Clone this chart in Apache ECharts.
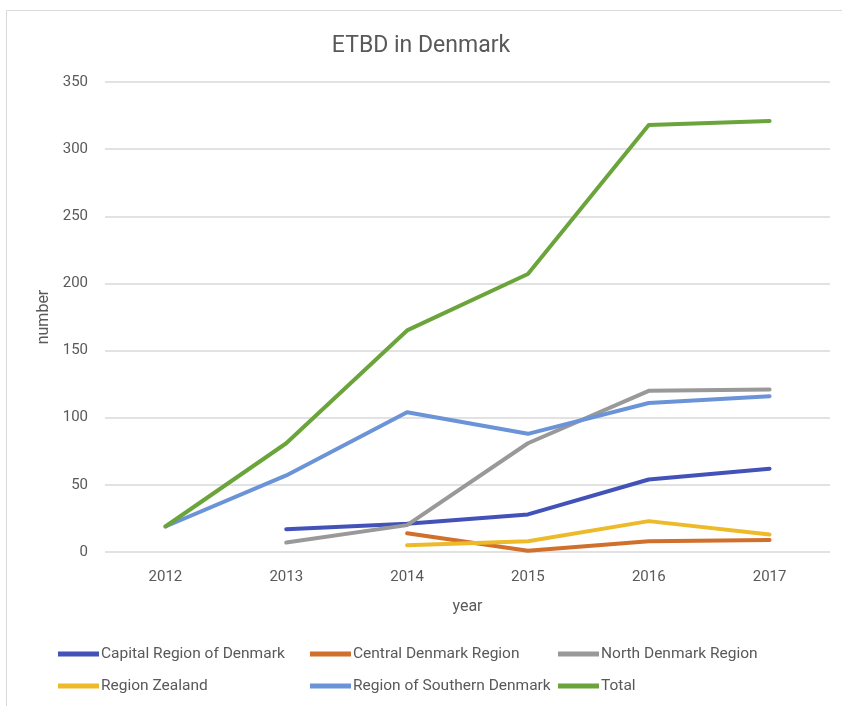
<!DOCTYPE html>
<html><head><meta charset="utf-8">
<script src="https://cdn.jsdelivr.net/npm/echarts@6/dist/echarts.min.js"></script>
<style>html,body{margin:0;padding:0;background:#fff}#c{width:842px;height:706px}</style>
</head><body><div id="c"></div>
<script>
const years = ['2012','2013','2014','2015','2016','2017'];
const capital = [null, 17, 21, 28, 54, 62];
const central = [null, null, 14, 1, 8, 9];
const north = [null, 7, 20, 81, 120, 121];
const zealand = [null, null, 5, 8, 23, 13];
const southern = [19, 57, 104, 88, 111, 116];
const total = [19, 81, 165, 207, 318, 321];
const seriesNames = ['Capital Region of Denmark','Central Denmark Region','North Denmark Region','Region Zealand','Region of Southern Denmark','Total'];
const seriesData = [capital, central, north, zealand, southern, total];
const colors = ['#4352B8','#D0702C','#999999','#EDBA2A','#6B93D7','#6CA43C'];

const FONT = "'Roboto', sans-serif";
const txt = '#595959';
const chart = echarts.init(document.getElementById('c'));
const legendBase = {orient:'vertical', top:645, padding:0, itemWidth:41, itemHeight:18, itemGap:14,
  textStyle:{color:txt, fontFamily:FONT, fontSize:15.5, lineHeight:18, padding:[0,0,0,-3]},
  icon:'path://M0,6.5 L41,6.5 L41,11.5 L0,11.5 Z'};
chart.setOption({
  animation:false,
  color: colors,
  graphic:[{type:'rect', shape:{x:6.5,y:10.5,width:850,height:720}, style:{fill:null, stroke:'#d9d9d9', lineWidth:1}, z:-1}],
  title:{text:'ETBD in Denmark', left:'center', top:30, textStyle:{color:txt, fontFamily:FONT, fontSize:23, fontWeight:'normal'}},
  grid:{left:105, right:12, top:82, bottom:154},
  legend:[
    Object.assign({}, legendBase, {left:58, data:[seriesNames[0], seriesNames[3]]}),
    Object.assign({}, legendBase, {left:310, data:[seriesNames[1], seriesNames[4]]}),
    Object.assign({}, legendBase, {left:558, data:[seriesNames[2], seriesNames[5]]})
  ],
  xAxis:{type:'category', data:years, boundaryGap:true, name:'year', nameLocation:'middle', nameGap:47,
    nameTextStyle:{color:txt, fontFamily:FONT, fontSize:16},
    axisLine:{show:false}, axisTick:{show:false},
    axisLabel:{color:txt, fontFamily:FONT, fontSize:15, margin:18}},
  yAxis:{type:'value', min:0, max:350, interval:50, name:'number', nameLocation:'middle', nameGap:52,
    nameTextStyle:{color:txt, fontFamily:FONT, fontSize:16},
    axisLine:{show:false}, axisTick:{show:false},
    splitLine:{lineStyle:{color:'#d9d9d9', width:1.5}},
    axisLabel:{color:txt, fontFamily:FONT, fontSize:15, margin:17}},
  series: seriesNames.map((n,i)=>({name:n, type:'line', data:seriesData[i], showSymbol:false, symbol:'none',
    connectNulls:false, lineStyle:{width:4, color:colors[i], cap:'round', join:'round'}, itemStyle:{color:colors[i]}}))
});
</script></body></html>
